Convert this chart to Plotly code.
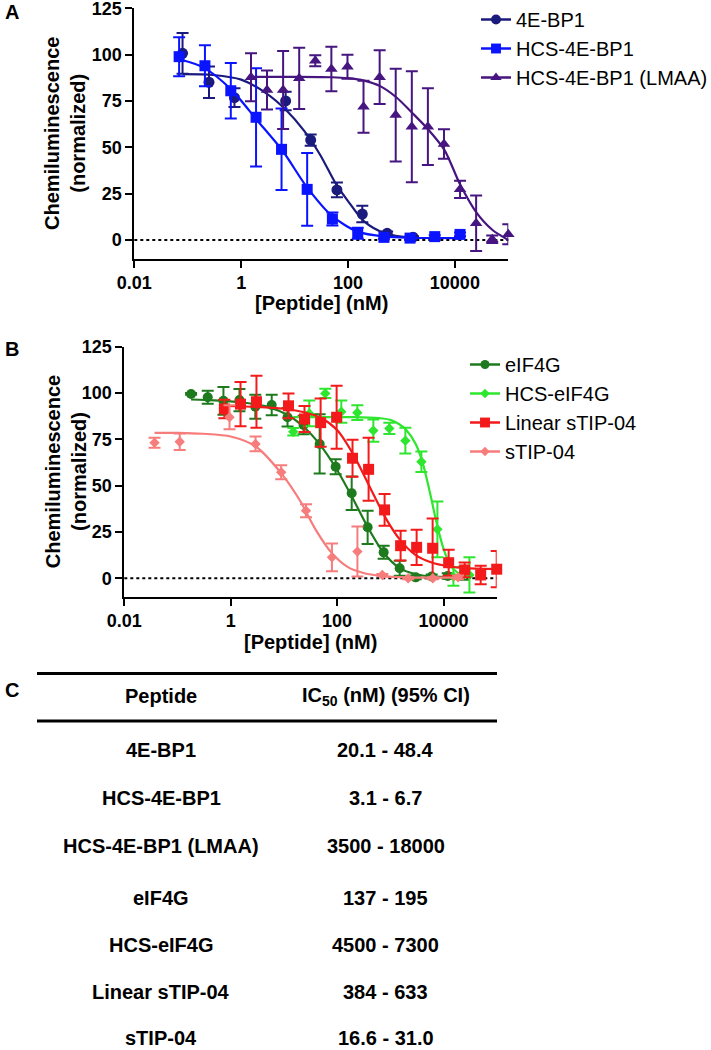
import plotly.graph_objects as go

W, H = 711, 1050
FONT = "Arial, 'Liberation Sans', Helvetica, sans-serif"


def px(x):
    return x / W


def py(y):
    return 1 - y / H


# ---------------- Panel A data ----------------
bp1_x = [0.08, 0.25, 0.75, 6.8, 20, 62, 185, 540, 1650]
bp1_y = [100.7, 85.1, 76.8, 75.0, 53.9, 27.0, 14.0, 3.6, 1.5]
bp1_e = [11, 8.5, 5, 5, 3, 4, 4.5, 1, 0.5]
bp1_cx = [0.08, 0.3, 1, 3, 7, 15, 30, 60, 100, 200, 500, 1650]
bp1_cy = [89.5, 89, 86.5, 79, 70, 59, 46, 30, 21, 10, 3.5, 1.2]

hcs_x = [0.069, 0.21, 0.64, 1.9, 5.7, 17.2, 51, 152, 470, 1450, 4200, 12500]
hcs_y = [98.9, 94.0, 80.5, 66.2, 48.9, 27.3, 11.3, 3.6, 1.4, 1.0, 1.8, 3.0]
hcs_e = [10.5, 11, 15, 26.5, 22, 19.6, 3.5, 3, 0.8, 0.8, 0.8, 1]
hcs_cx = [0.069, 0.2, 0.66, 2, 6, 17, 50, 150, 500, 1500, 12500]
hcs_cy = [97.5, 93, 81, 64.5, 48, 28.5, 13, 4.5, 1.8, 1.2, 1.0]

lmaa_x = [1.53, 3.05, 6.1, 12.2, 24.4, 48.8, 97.7, 195, 391, 781, 1563, 3125,
          6250, 12500, 25000, 50000, 100000]
lmaa_y = [87.8, 80.9, 80.9, 87.2, 96.7, 92.2, 93.5, 71.9, 87.8, 67.4, 61.1, 61.1,
          51.8, 27.3, 9.0, 0.4, 3.1]
lmaa_e = [13, 10.5, 21, 16.5, 3, 12, 6.5, 14, 14.5, 25, 30, 20.7, 8, 4.7, 15, 2, 5.4]
lmaa_cx = [1.53, 10, 50, 100, 200, 400, 800, 1600, 3200, 6400, 12500, 25000, 50000, 100000]
lmaa_cy = [88, 88, 87.8, 87.3, 86, 83, 77, 68.5, 59.5, 48.5, 30, 15, 5.5, 0]

# ---------------- Panel B data ----------------
eif_x = [0.18, 0.37, 0.73, 1.46, 2.9, 5.9, 11.7, 23.4, 47, 94, 188, 375, 750,
         1500, 3000, 6000, 12000, 24000]
eif_y = [99.5, 97.7, 95.8, 96.2, 92.6, 93.5, 86.9, 82.7, 72.5, 60.2, 45.9, 27.5,
         14.0, 5.4, 0.5, 1.0, 1.2, 2.7]
eif_e = [0.5, 3.5, 7.5, 6, 6.5, 5.5, 5, 5, 16, 4, 9, 9, 3.5, 4, 1, 1, 1.5, 3.5]
eif_cx = [0.18, 0.5, 1.5, 5, 12, 24, 48, 95, 190, 370, 760, 1500, 3000, 6000, 24000]
eif_cy = [96.5, 96, 95, 92.5, 88, 81.5, 72, 59.5, 44, 28, 13.5, 5.5, 2.2, 1, 0.5]

hcseif_x = [15, 30, 60, 120, 240, 480, 960, 1920, 3840, 7680, 15360, 30720]
hcseif_y = [79.1, 89.0, 99.8, 89.9, 89.4, 79.7, 80.9, 74.3, 62.9, 26.4, 0.9, 1.8]
hcseif_e = [2, 7, 2.5, 6, 4, 6, 3, 7, 5.5, 15, 5, 9.5]
hcseif_cx = [15, 50, 200, 600, 1000, 1500, 2000, 3000, 4000, 5000, 6000, 7000,
             8000, 10000, 13000, 16000, 22000, 30720]
hcseif_cy = [87, 87, 87, 86.5, 85.5, 83, 80, 72.5, 63, 52, 42, 33, 26, 16, 8,
             4.5, 1.8, 1]

lin_x = [0.76, 1.53, 3.05, 12.2, 24.4, 49, 98, 195, 391, 781, 1563, 3125, 6250,
         12500, 25000, 50000, 100000]
lin_y = [91.4, 94.0, 95.3, 93.1, 86.0, 84.0, 86.9, 64.8, 58.8, 36.9, 17.6, 16.7,
         16.2, 8.4, 4.5, 1.8, 4.9]
lin_e = [5, 12, 14, 6.7, 7, 13, 17, 10, 17, 8.6, 8, 9.5, 16, 7, 4, 5, 9.8]
lin_cx = [0.76, 3, 10, 25, 50, 100, 200, 400, 800, 1500, 3000, 6000, 12000,
          25000, 100000]
lin_cy = [93, 92.5, 91.5, 89.5, 86.5, 80, 67, 50, 33, 21, 12.5, 8.5, 6.5, 5.5, 5]

stip_x = [0.037, 0.11, 0.95, 2.93, 8.9, 26, 80, 241, 708, 2170, 6300, 18800]
stip_y = [73.2, 73.7, 86.9, 72.5, 57.2, 36.5, 11.3, 14.4, 1.8, 0.0, 0.0, 0.5]
stip_e = [2.7, 4.5, 6.5, 4, 3.8, 3.5, 7.5, 13.5, 0.5, 0.5, 0.5, 1]
stip_cx = [0.037, 0.1, 0.3, 1, 3, 9, 20, 40, 80, 160, 300, 700, 2000, 18800]
stip_cy = [78.5, 78.5, 78, 76.5, 71, 56.5, 42, 26, 13.5, 6, 3, 1.2, 0.5, 0.3]

# ---------------- Panel C table ----------------
table_peptides = ["4E-BP1", "HCS-4E-BP1", "HCS-4E-BP1 (LMAA)", "eIF4G",
                  "HCS-eIF4G", "Linear sTIP-04", "sTIP-04"]
table_ci = ["20.1 - 48.4", "3.1 - 6.7", "3500 - 18000", "137 - 195",
            "4500 - 7300", "384 - 633", "16.6 - 31.0"]

x_tickvals = [0.01, 1, 100, 10000]
x_ticktext = ["0.01", "1", "100", "10000"]
y_tickvals = [0, 25, 50, 75, 100, 125]

fig = go.Figure()


def add_series(name, xs, ys, err, cx, cy, color, symbol, size, xa, ya, legend):
    fig.add_trace(go.Scatter(
        x=cx, y=cy, mode="lines",
        line=dict(color=color, width=2.2, shape="spline", smoothing=0.8),
        xaxis=xa, yaxis=ya, showlegend=False, hoverinfo="skip"))
    fig.add_trace(go.Scatter(
        x=xs, y=ys, mode="markers",
        marker=dict(color=color, symbol=symbol, size=size, line=dict(width=0)),
        error_y=dict(type="data", array=err, visible=True, color=color,
                     thickness=2, width=6),
        xaxis=xa, yaxis=ya, showlegend=False, cliponaxis=False))
    fig.add_trace(go.Scatter(
        x=[None], y=[None], mode="lines+markers", name=name,
        line=dict(color=color, width=2.5),
        marker=dict(color=color, symbol=symbol, size=size * 0.9),
        xaxis=xa, yaxis=ya, legend=legend))


add_series("4E-BP1", bp1_x, bp1_y, bp1_e, bp1_cx, bp1_cy, "#1b1b7d", "circle", 11,
           "x", "y", "legend")
add_series("HCS-4E-BP1", hcs_x, hcs_y, hcs_e, hcs_cx, hcs_cy, "#0a14ff", "square", 11,
           "x", "y", "legend")
add_series("HCS-4E-BP1 (LMAA)", lmaa_x, lmaa_y, lmaa_e, lmaa_cx, lmaa_cy, "#461580",
           "triangle-up", 11, "x", "y", "legend")

add_series("eIF4G", eif_x, eif_y, eif_e, eif_cx, eif_cy, "#1d7a1d", "circle", 10,
           "x2", "y2", "legend2")
add_series("HCS-eIF4G", hcseif_x, hcseif_y, hcseif_e, hcseif_cx, hcseif_cy, "#2ee62e",
           "diamond", 8, "x2", "y2", "legend2")
add_series("Linear sTIP-04", lin_x, lin_y, lin_e, lin_cx, lin_cy, "#f21a1a", "square",
           11, "x2", "y2", "legend2")
add_series("sTIP-04", stip_x, stip_y, stip_e, stip_cx, stip_cy, "#f77c7c", "diamond", 8,
           "x2", "y2", "legend2")

tickfont = dict(family=FONT, size=18, color="black", weight="bold")
axis_common = dict(showline=True, linecolor="black", linewidth=2, ticks="outside",
                   ticklen=7, tickwidth=2, tickcolor="black", tickfont=tickfont,
                   showgrid=False, zeroline=False, mirror=False, automargin=False,
                   ticklabeloverflow="allow")

legend_common = dict(xanchor="left", yanchor="top", xref="container", yref="container",
                     font=dict(family=FONT, size=20, color="black"),
                     bgcolor="rgba(0,0,0,0)", borderwidth=0, itemwidth=30,
                     tracegroupgap=0)

fig.update_layout(
    width=W, height=H, margin=dict(l=0, r=0, t=0, b=0, pad=0, autoexpand=False),
    paper_bgcolor="white", plot_bgcolor="white",
    font=dict(family=FONT, color="black"),
    xaxis=dict(domain=[px(134.3), px(508.3)], type="log", range=[-2, 5],
               tickvals=x_tickvals, ticktext=x_ticktext, anchor="y", **axis_common),
    yaxis=dict(domain=[py(258.5), py(8.3)], range=[-10, 125], tickvals=y_tickvals,
               anchor="x", **axis_common),
    xaxis2=dict(domain=[px(124.3), px(496.7)], type="log", range=[-2, 5],
                tickvals=x_tickvals, ticktext=x_ticktext, anchor="y2", **axis_common),
    yaxis2=dict(domain=[py(596.8), py(346.7)], range=[-10, 125], tickvals=y_tickvals,
                anchor="x2", **axis_common),
    legend=dict(x=px(476), y=py(-4), **legend_common),
    legend2=dict(x=px(465), y=py(345), **legend_common),
    showlegend=True,
)

shapes = []
# dotted zero lines
for xr, yr in (("x domain", "y"), ("x2 domain", "y2")):
    shapes.append(dict(type="line", xref=xr, yref=yr, x0=0, x1=1, y0=0, y1=0,
                       line=dict(color="black", width=2, dash="dot"), layer="below"))
# table rules
for yy in (673.5, 721):
    shapes.append(dict(type="line", xref="paper", yref="paper", x0=px(37), x1=px(497),
                       y0=py(yy), y1=py(yy), line=dict(color="black", width=3)))
fig.update_layout(shapes=shapes)

ann = []


def text(x, y, s, size, bold=True, angle=0, anchor="center"):
    ann.append(dict(x=px(x), y=py(y), xref="paper", yref="paper", text=s,
                    showarrow=False, textangle=angle, xanchor=anchor, yanchor="middle",
                    font=dict(family=FONT, size=size, color="black",
                              weight="bold" if bold else "normal")))


# panel letters
text(3, 12, "A", 20, anchor="left")
text(3, 349, "B", 20, anchor="left")
text(3, 690, "C", 20, anchor="left")

# axis titles
text(65.5, 133.5, "Chemiluminescence<br>(normalized)", 20, angle=-90)
text(65.5, 471.7, "Chemiluminescence<br>(normalized)", 20, angle=-90)
text(321.3, 303, "[Peptide] (nM)", 20)
text(310.5, 642, "[Peptide] (nM)", 20)

# table
text(161, 696, "Peptide", 20)
text(386, 696, "IC<sub>50</sub> (nM) (95% CI)", 20)
row_y = [750, 798, 846, 898, 945, 992, 1038]
for pep, ci, yy in zip(table_peptides, table_ci, row_y):
    text(161, yy, pep, 20)
    text(386, yy, ci, 20)

fig.update_layout(annotations=ann)

fig.write_html(
    "out.html",
    config={"displayModeBar": False, "staticPlot": True},
    post_script="document.body.style.margin='0px';document.body.style.overflow='hidden';",
)
